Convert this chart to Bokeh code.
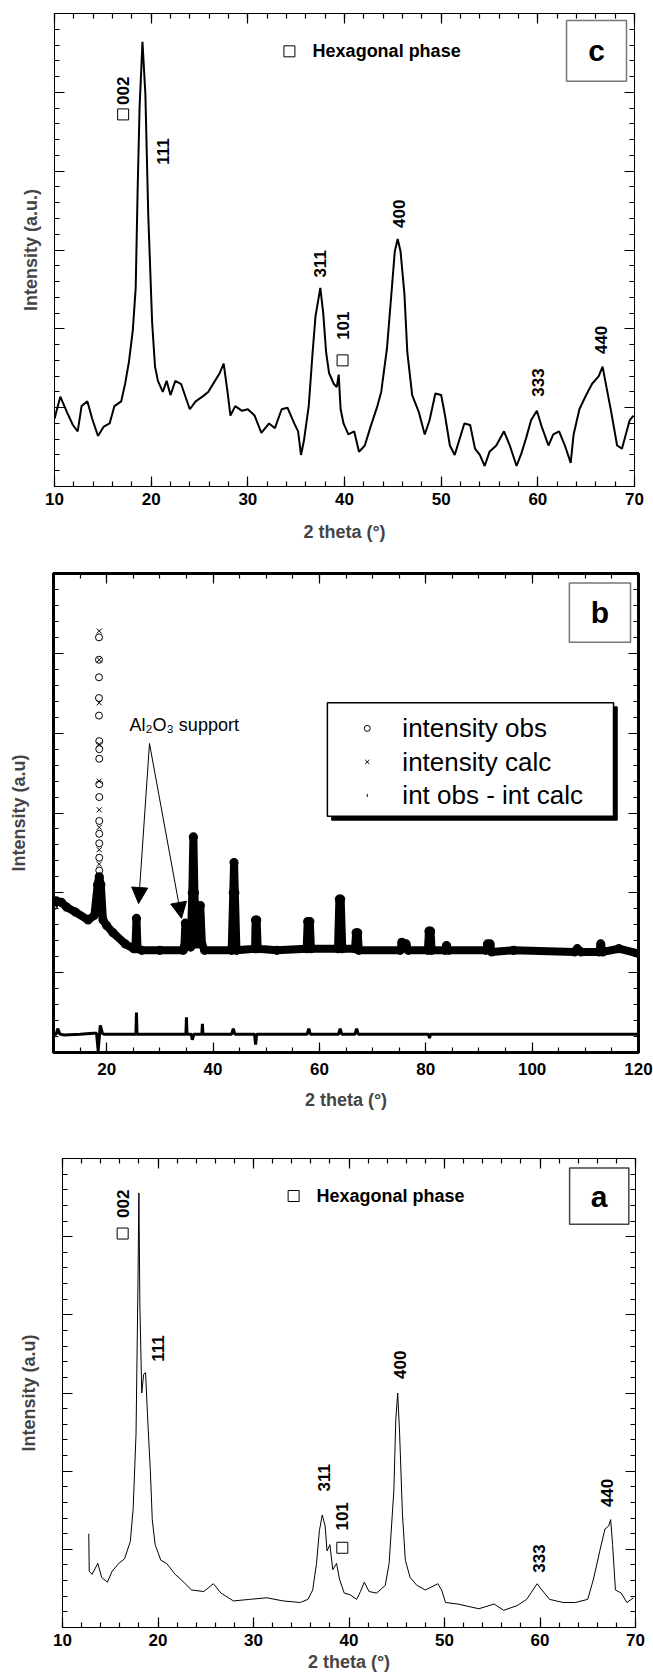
from math import pi
from bokeh.plotting import figure
from bokeh.models import (Range1d, LinearAxis, SingleIntervalTicker,
                          CustomJSTickFormatter, Arrow, NormalHead)
from bokeh.layouts import column, row
from bokeh.core.properties import value
from bokeh.embed import file_html
from bokeh.resources import INLINE

FONT = "Liberation Sans"

# ---------------- data: panel c ----------------
c_theta = [10.0, 10.6, 11.3, 11.9, 12.4, 12.8, 13.4, 13.9, 14.5, 15.1, 15.7, 16.2, 16.9, 17.3, 17.7,
           18.1, 18.4, 18.6, 18.8, 19.1, 19.4, 19.7, 20.1, 20.4, 20.7, 21.2, 21.6, 22.0, 22.5, 23.1,
           23.6, 24.0, 24.6, 25.3, 25.9, 26.6, 27.1, 27.5, 27.9, 28.2, 28.7, 29.4, 30.0, 30.7, 31.4,
           32.2, 32.8, 33.5, 34.1, 34.8, 35.2, 35.5, 35.8, 36.3, 36.7, 37.0, 37.5, 37.8, 38.1, 38.4,
           38.9, 39.2, 39.4, 39.6, 39.9, 40.4, 41.0, 41.5, 42.1, 42.7, 43.4, 43.8, 44.4, 44.9, 45.2,
           45.5, 45.8, 46.2, 46.5, 47.0, 47.7, 48.3, 48.8, 49.4, 50.0, 50.4, 50.9, 51.4, 51.8, 52.4,
           53.0, 53.5, 54.0, 54.5, 55.0, 55.7, 56.5, 57.1, 57.8, 58.3, 58.8, 59.3, 59.9, 60.4, 61.1,
           61.6, 62.2, 62.8, 63.4, 63.7, 64.3, 65.0, 65.6, 66.3, 66.7, 67.1, 67.6, 68.2, 68.7, 69.1,
           69.5, 69.9]
c_int = [4.3, 5.7, 4.7, 3.9, 3.5, 5.1, 5.4, 4.3, 3.2, 3.8, 4.0, 5.1, 5.4, 6.5, 7.9,
         9.9, 12.6, 18.8, 24.0, 28.2, 24.9, 17.2, 10.4, 7.6, 6.7, 6.0, 6.7, 5.8, 6.7, 6.5,
         5.6, 4.9, 5.4, 5.7, 6.0, 6.7, 7.2, 7.8, 6.0, 4.5, 5.1, 4.8, 4.9, 4.5, 3.4,
         4.0, 3.7, 4.9, 5.0, 4.0, 3.5, 2.0, 2.9, 5.1, 8.5, 10.8, 12.6, 11.0, 8.5, 7.2,
         6.5, 6.3, 7.1, 4.9, 4.0, 3.3, 3.5, 2.2, 2.6, 3.8, 5.1, 6.0, 8.8, 12.6, 14.9,
         15.7, 14.9, 12.2, 8.5, 5.8, 4.7, 3.3, 4.2, 5.9, 5.8, 4.5, 2.6, 2.0, 2.8, 4.0,
         3.9, 2.4, 2.0, 1.3, 2.2, 2.6, 3.5, 2.6, 1.3, 2.1, 3.1, 4.2, 4.8, 3.8, 2.6,
         3.3, 3.5, 2.6, 1.5, 3.3, 4.9, 5.8, 6.5, 7.0, 7.6, 6.3, 4.7, 2.6, 2.4, 3.3,
         4.2, 4.5]
c_lab_text = ["002", "111", "311", "101", "400", "333", "440"]
c_lab_x = [17.1, 21.2, 37.5, 39.8, 45.6, 60.0, 66.5]
c_lab_y = [24.2, 20.4, 13.25, 9.3, 16.4, 5.7, 8.4]
c_hex_x = [17.1, 39.8]
c_hex_y = [23.6, 8.0]

# ---------------- data: panel b ----------------
b_theta = [10.0, 10.5, 11.5, 12.5, 14.1, 16.5, 17.7, 18.3, 18.6, 18.9, 19.3, 20.0, 21.2, 23.5,
           25.1, 25.4, 25.6, 25.8, 26.6, 30.0, 34.4, 34.6, 34.8, 35.0, 35.8, 36.1, 36.3, 36.5,
           36.8, 37.4, 37.6, 37.9, 38.4, 43.5, 43.8, 43.95, 44.1, 44.4, 47.9, 48.0, 48.2, 48.4,
           52.0, 57.6, 57.8, 58.2, 58.4, 63.5, 63.75, 64.0, 64.3, 66.7, 66.9, 67.2, 67.4, 75.2,
           75.5, 76.3, 76.7, 80.4, 80.6, 80.9, 81.1, 83.6, 83.9, 84.3, 91.3, 91.6, 92.1, 92.4,
           96.5, 108.0, 108.5, 109.2, 112.6, 112.9, 113.3, 116.3, 120.0]
b_obs = [9.2, 9.5, 9.4, 9.1, 8.8, 8.3, 8.6, 10.5, 11.0, 10.5, 8.3, 7.95, 7.5, 6.8,
         6.5, 6.5, 8.4, 6.5, 6.4, 6.4, 6.4, 6.6, 8.1, 6.8, 6.6, 10.0, 13.5, 10.0,
         6.8, 6.8, 9.2, 6.8, 6.4, 6.4, 10.0, 11.9, 10.0, 6.4, 6.5, 8.3, 8.3, 6.5,
         6.4, 6.5, 8.2, 8.2, 6.5, 6.5, 9.6, 9.6, 6.5, 6.5, 7.5, 7.5, 6.4, 6.4,
         6.9, 6.8, 6.4, 6.4, 7.6, 7.6, 6.4, 6.4, 6.7, 6.4, 6.4, 6.8, 6.8, 6.3,
         6.4, 6.3, 6.5, 6.3, 6.3, 6.8, 6.3, 6.5, 6.2]
b_pk_obs_theta = [18.55, 18.55, 18.55, 18.55, 18.55, 18.6, 18.6, 18.6, 18.6, 18.6, 18.6,
                  18.6, 18.6, 18.6, 18.6, 18.6]
b_pk_obs = [26.0, 24.6, 23.5, 22.2, 21.1, 19.5, 19.0, 18.4, 16.8, 16.0, 14.5, 13.7, 13.1,
            12.2, 11.4, 10.3]
b_pk_calc_theta = [18.6, 18.6, 18.6, 18.6, 18.6, 18.6, 18.6, 18.6, 18.6, 18.6, 18.6]
b_pk_calc = [26.4, 24.6, 21.9, 19.3, 17.0, 15.2, 14.1, 12.7, 11.8, 10.9, 10.0]
b_diff_theta = [10.0, 10.5, 10.8, 11.2, 12.0, 15.0, 17.5, 18.1, 18.4, 18.8, 19.2, 19.5, 25.4,
                25.5, 25.6, 25.7, 34.8, 34.9, 35.0, 35.1, 35.9, 36.1, 36.4, 37.8, 37.9, 38.0,
                38.1, 43.5, 43.8, 44.1, 47.8, 48.0, 48.2, 57.7, 58.0, 58.3, 63.6, 63.9, 64.2,
                66.7, 67.0, 67.3, 80.5, 80.7, 80.9, 120.0]
b_diff = [1.15, 1.15, 1.5, 1.15, 1.1, 1.15, 1.2, 1.2, 0.1, 1.7, 1.2, 1.15, 1.15,
          1.15, 2.5, 1.15, 1.15, 1.15, 2.2, 1.15, 1.15, 0.8, 1.15, 1.15, 1.15, 1.8,
          1.15, 1.15, 1.5, 1.15, 1.15, 0.5, 1.15, 1.15, 1.5, 1.15, 1.15, 1.5, 1.15,
          1.15, 1.5, 1.15, 1.15, 0.9, 1.15, 1.15]
b_leg_text = ["intensity obs", "intensity calc", "int obs - int calc"]

# ---------------- data: panel a ----------------
a_theta = [12.75, 12.8, 13.1, 13.7, 14.1, 14.7, 15.2, 15.9, 16.5, 17.1, 17.4, 17.7, 17.9, 18.0,
           18.1, 18.3, 18.5, 18.7, 18.9, 19.2, 19.4, 19.7, 20.3, 20.9, 21.8, 22.7, 23.5, 24.8,
           25.8, 26.6, 27.9, 29.6, 31.4, 33.1, 34.9, 35.7, 36.2, 36.6, 36.9, 37.2, 37.5, 37.7,
           38.0, 38.3, 38.7, 39.0, 39.5, 40.1, 40.8, 41.2, 41.6, 42.1, 42.9, 43.8, 44.2, 44.7,
           44.9, 45.1, 45.3, 45.6, 45.9, 46.4, 47.1, 48.0, 49.3, 49.7, 50.1, 51.4, 53.6, 55.2,
           56.2, 57.6, 58.6, 59.7, 60.2, 61.0, 62.4, 63.7, 65.0, 65.6, 66.3, 66.8, 67.2, 67.4,
           67.6, 67.9, 68.5, 69.1, 69.8]
a_int = [6.0, 3.6, 3.4, 4.1, 3.2, 2.9, 3.6, 4.1, 4.4, 5.5, 7.6, 12.4, 21.9, 27.8,
         20.7, 15.0, 16.2, 16.3, 13.6, 10.0, 6.9, 5.3, 4.3, 4.1, 3.4, 2.9, 2.4, 2.3,
         2.8, 2.2, 1.7, 1.8, 1.9, 1.7, 1.6, 1.8, 2.4, 4.1, 6.2, 7.2, 6.5, 4.9,
         5.3, 3.7, 4.1, 3.1, 2.2, 2.1, 1.8, 2.3, 2.9, 2.3, 2.2, 2.7, 4.1, 8.8,
         13.3, 15.0, 12.4, 7.2, 4.3, 3.2, 2.7, 2.4, 2.8, 2.4, 1.6, 1.5, 1.2, 1.5,
         1.1, 1.4, 1.8, 2.8, 2.4, 1.8, 1.6, 1.6, 1.8, 3.1, 5.0, 6.3, 6.5, 6.9,
         5.3, 2.4, 2.2, 1.6, 1.9]
a_lab_text = ["002", "111", "311", "101", "400", "333", "440"]
a_lab_x = [16.3, 19.95, 37.4, 39.3, 45.3, 59.9, 67.0]
a_lab_y = [26.2, 17.0, 8.7, 6.2, 15.9, 3.5, 7.7]
a_hex_x = [16.3, 39.3]
a_hex_y = [25.2, 5.1]


def blank():
    return CustomJSTickFormatter(code="return ''")


def style_ticks(ax, lw):
    ax.major_tick_in = 10
    ax.major_tick_out = 0
    ax.minor_tick_in = 5
    ax.minor_tick_out = 0
    ax.axis_line_color = "black"
    ax.axis_line_width = lw
    ax.major_tick_line_width = 1.2
    ax.minor_tick_line_width = 1.2
    ax.major_label_standoff = 0


def make_fig(height, xr, x_int, x_minor, borders, frame_lw, ylabel, lab_standoff,
             title_standoff, ytitle_standoff):
    top, bottom, left, right = borders
    p = figure(width=653, height=height, x_range=Range1d(*xr), y_range=Range1d(0, 30),
               output_backend="svg", toolbar_location=None,
               x_axis_location=None, y_axis_location=None,
               min_border_top=top, min_border_bottom=bottom,
               min_border_left=left, min_border_right=right)
    p.grid.visible = False
    p.outline_line_color = "black"
    p.outline_line_width = frame_lw
    xt = SingleIntervalTicker(interval=x_int, num_minor_ticks=x_minor)
    yt = SingleIntervalTicker(interval=5, num_minor_ticks=5)

    xa = LinearAxis(ticker=xt)
    style_ticks(xa, frame_lw)
    xa.major_label_standoff = lab_standoff
    xa.major_label_text_font = FONT
    xa.major_label_text_font_style = "bold"
    xa.major_label_text_font_size = "17px"
    xa.major_label_text_color = "black"
    xa.axis_label = "2 theta (°)"
    xa.axis_label_text_font = FONT
    xa.axis_label_text_font_style = "bold"
    xa.axis_label_text_font_size = "18px"
    xa.axis_label_standoff = title_standoff
    p.add_layout(xa, "below")

    ya = LinearAxis(ticker=yt, formatter=blank())
    style_ticks(ya, frame_lw)
    ya.major_label_text_font_size = "1px"
    ya.axis_label = ylabel
    ya.axis_label_text_font = FONT
    ya.axis_label_text_font_style = "bold"
    ya.axis_label_text_font_size = "18px"
    ya.axis_label_standoff = ytitle_standoff
    p.add_layout(ya, "left")

    ta = LinearAxis(ticker=xt, formatter=blank())
    style_ticks(ta, frame_lw)
    ta.major_label_text_font_size = "1px"
    p.add_layout(ta, "above")

    ra = LinearAxis(ticker=yt, formatter=blank())
    style_ticks(ra, frame_lw)
    ra.major_label_text_font_size = "1px"
    p.add_layout(ra, "right")
    return p


def peak_labels(p, xs, ys, texts, hx, hy):
    p.text(x=xs, y=ys, text=texts, angle=pi / 2, text_align="left", text_baseline="middle",
           text_font=value(FONT), text_font_style="bold", text_font_size="17px",
           text_color="black")
    p.scatter(x=hx, y=hy, marker="square", size=11, fill_color="white", line_color="black",
              line_width=1)


def hex_legend(p, sx, sy, tx):
    p.scatter(x=[sx], y=[sy], marker="square", size=11, fill_color="white",
              line_color="black", line_width=1)
    p.text(x=[tx], y=[sy], text=["Hexagonal phase"], text_align="left", text_baseline="middle",
           text_font=value(FONT), text_font_style="bold", text_font_size="18px")


def tag_box(p, l, r, b, t, letter, color):
    p.quad(left=[l], right=[r], bottom=[b], top=[t], fill_color="white", line_color=color,
           line_width=1.5)
    p.text(x=[(l + r) / 2], y=[(b + t) / 2], text=[letter], text_align="center",
           text_baseline="middle", text_font=value(FONT), text_font_style="bold",
           text_font_size="30px")


# ---------------- panel c ----------------
pc = make_fig(553, (10, 70), 10, 5, (13, 67, 54, 19), 1, "Intensity (a.u.)", 6, 14, 14)
pc.line(c_theta, c_int, line_color="black", line_width=2)
peak_labels(pc, c_lab_x, c_lab_y, c_lab_text, c_hex_x, c_hex_y)
hex_legend(pc, 34.3, 27.6, 36.7)
tag_box(pc, 62.97, 69.17, 25.7, 29.55, "c", "#777777")

# ---------------- panel b ----------------
pb = make_fig(577, (10, 120), 20, 4, (20, 78, 53, 15), 3, "Intensity (a.u)", 10, 12, 25)
pb.line(b_diff_theta, b_diff, line_color="black", line_width=3)
pb.line(b_theta, b_obs, line_color="black", line_width=8, line_join="round")
pb.scatter(b_theta, b_obs, marker="circle", size=8, fill_color=None, line_color="black",
           line_width=1.2)
pb.scatter(b_pk_obs_theta, b_pk_obs, marker="circle", size=7, fill_color=None,
           line_color="black", line_width=1)
pb.scatter(b_pk_calc_theta, b_pk_calc, marker="x", size=7, line_color="black", line_width=1)
# legend
pb.quad(left=[62.3], right=[116.0], bottom=[14.55], top=[21.65], fill_color="black",
        line_color="black")
pb.quad(left=[61.5], right=[115.3], bottom=[14.8], top=[21.9], fill_color="white",
        line_color="black", line_width=1.5)
pb.scatter(x=[69.0], y=[20.3], marker="circle", size=6, fill_color=None, line_color="black")
pb.scatter(x=[69.0], y=[18.2], marker="x", size=6, line_color="black")
pb.scatter(x=[69.0], y=[16.1], marker="dash", size=3, angle=pi / 2, line_color="black")
pb.text(x=[75.6, 75.6, 75.6], y=[20.3, 18.2, 16.1], text=b_leg_text, text_align="left",
        text_baseline="middle", text_font=value(FONT), text_font_size="26px")
pb.text(x=[24.3], y=[20.5], text=["Al₂O₃ support"], text_align="left",
        text_baseline="alphabetic", text_font=value(FONT), text_font_size="18px")
for xe, ye in ((26.0, 9.33), (34.07, 8.4)):
    pb.add_layout(Arrow(end=NormalHead(size=16, fill_color="black", line_color="black"),
                        x_start=28.05, y_start=19.35, x_end=xe, y_end=ye,
                        line_color="black", line_width=1))
tag_box(pb, 107.0, 118.5, 25.7, 29.4, "b", "#777777")

# ---------------- panel a ----------------
pa = make_fig(550, (10, 70), 10, 5, (28, 53, 62, 18), 1, "Intensity (a.u)", 6, 3, 24)
pa.line(a_theta, a_int, line_color="black", line_width=1)
peak_labels(pa, a_lab_x, a_lab_y, a_lab_text, a_hex_x, a_hex_y)
hex_legend(pa, 34.2, 27.6, 36.6)
tag_box(pa, 63.1, 69.3, 25.8, 29.4, "a", "#444444")

layout = column(row(pc), row(pb), row(pa), spacing=0)
open("out.html", "w").write(file_html(layout, INLINE))
